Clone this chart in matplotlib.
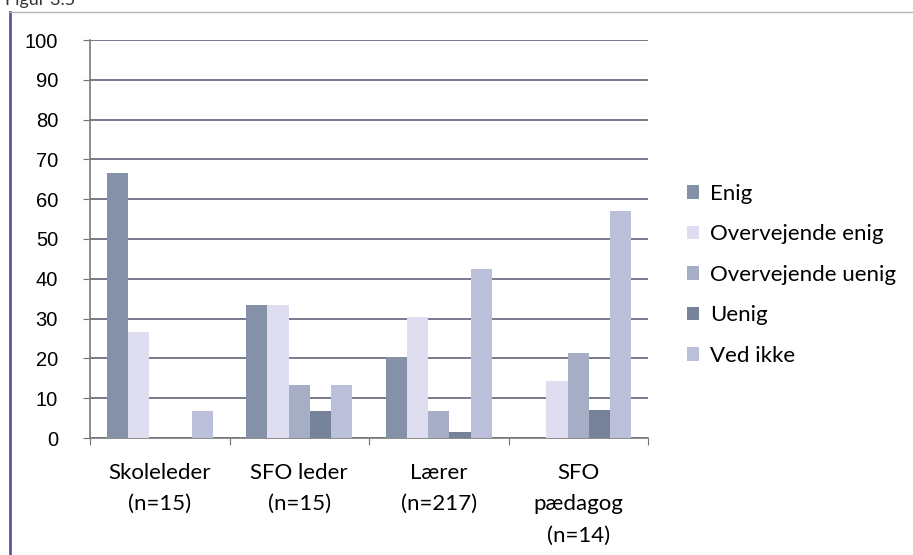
import numpy as np
import matplotlib
matplotlib.use('Agg')
import matplotlib.pyplot as plt
from matplotlib.lines import Line2D

# Data (percent)
groups = ['Skoleleder\n(n=15)', 'SFO leder\n(n=15)', 'Lærer\n(n=217)', 'SFO\npædagog\n(n=14)']
series = ['Enig', 'Overvejende enig', 'Overvejende uenig', 'Uenig', 'Ved ikke']
enig = [66.7, 33.3, 20.3, 0]
overv_enig = [26.7, 33.3, 30.4, 14.3]
overv_uenig = [0, 13.3, 6.9, 21.4]
uenig = [0, 6.7, 1.4, 7.1]
ved_ikke = [6.7, 13.3, 42.4, 57.1]
yticks = list(range(0, 101, 10))

values = [enig, overv_enig, overv_uenig, uenig, ved_ikke]
colors = ['#8491a6', '#dedef0', '#a6aec5', '#76819a', '#bbbfda']

plt.rcParams['font.family'] = ['Lato', 'DejaVu Sans']

fig = plt.figure(figsize=(9.13, 5.55), dpi=100)
ax = fig.add_axes([90 / 913, 117 / 555, 558 / 913, 398 / 555])

w = 0.152
x = np.arange(len(groups)) + 0.5
for j, (vals, c) in enumerate(zip(values, colors)):
    ax.bar(x + (j - 2) * w, vals, width=w, color=c, label=series[j], zorder=3)

ax.set_xlim(0, 4)
ax.set_ylim(0, 100)
ax.set_yticks(yticks)
ax.yaxis.grid(True, color='#6e6e86', linewidth=1.3, zorder=0)
ax.set_axisbelow(True)

ax.set_xticks([0, 1, 2, 3, 4])
ax.set_xticklabels([])
ax.set_xticks(x, minor=True)
ax.set_xticklabels(groups, minor=True, fontsize=16, linespacing=1.7, va='top')
ax.tick_params(axis='x', which='minor', length=0, pad=18)
ax.tick_params(axis='x', which='major', length=5, color='#707070')
ax.tick_params(axis='y', length=5, color='#707070', labelsize=14.5, pad=18)
for lbl in ax.get_yticklabels():
    lbl.set_family(['Liberation Sans', 'DejaVu Sans'])

for s in ['top', 'right']:
    ax.spines[s].set_visible(False)
for s in ['left', 'bottom']:
    ax.spines[s].set_color('#7a7a7a')
    ax.spines[s].set_linewidth(1.2)

leg = fig.legend(loc='upper left', bbox_to_anchor=(687 / 913, 1 - 184 / 555),
                 frameon=False, fontsize=16, handlelength=0.55, handleheight=0.55,
                 handletextpad=0.5, labelspacing=0.92, borderaxespad=0, borderpad=0)

# chart area border and caption cut off at the top
fig.add_artist(Line2D([10 / 913, 10 / 913], [0, 1 - 12 / 555], color='#5a5aa0', linewidth=2))
fig.add_artist(Line2D([10 / 913, 1], [1 - 12 / 555, 1 - 12 / 555], color='#b4b4b4', linewidth=1))
fig.text(0.005, 1.0, 'Figur 3.5', fontsize=13, va='center', color='#333333')

fig.savefig('out.png', dpi=100)
